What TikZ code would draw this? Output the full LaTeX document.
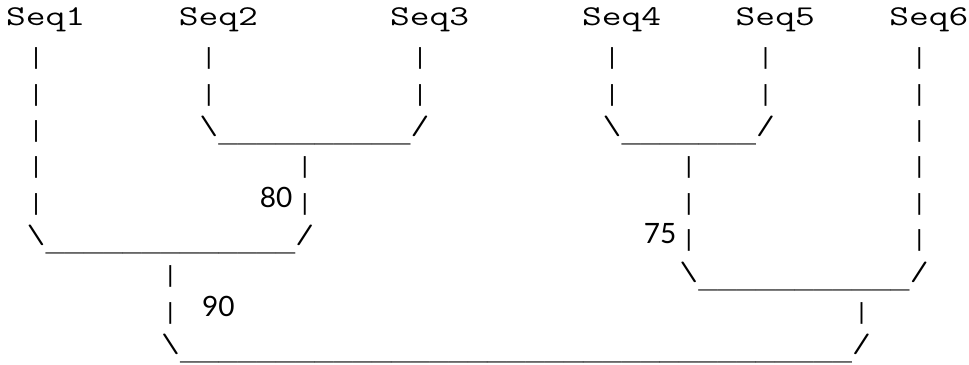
\documentclass[tikz,border=0pt]{standalone}
\usepackage{fontspec}
\newfontfamily\digitfont{Lato}
\newfontfamily\symfont{Liberation Mono}

\newlength\charw
\setlength\charw{10.5pt}
\newcommand\gap[1]{\hspace*{#1\charw}}
\newcommand\seq[1]{\makebox[4\charw]{\scalebox{0.9767}[1]{\fontsize{21.5pt}{24pt}\selectfont #1}}}
\newcommand\bs{\makebox[\charw]{\textbackslash}}
\newcommand\fs{\makebox[\charw]{/}}
\newcommand\vb{\makebox[\charw]{\raisebox{-2pt}{\scalebox{0.7292}[1]{\fontsize{17.5pt}{24pt}\selectfont\symfont|}}}}
\newcommand\unders[1]{\foreach \k in {1,...,#1}{\makebox[\charw]{\raisebox{-6pt}{\fontsize{17.5pt}{24pt}\selectfont\symfont\_}}}}
\newcommand\lbl[1]{\makebox[2\charw]{\scalebox{0.7292}[1]{\fontsize{21pt}{24pt}\selectfont\digitfont #1}}}
\newcommand\asciiline[1]{\scalebox{1.3714}[1]{#1}}

\tikzset{asciirow/.style={anchor=base west, inner sep=0pt, font=\fontsize{20pt}{24pt}\selectfont\ttfamily}}

\begin{document}
\begin{tikzpicture}[x=0.75pt, y=-0.75pt]
        \useasboundingbox (0, 0) rectangle (969, 364);

        % Rows
        \node[asciirow] (r1) at (7, 26.0) {\asciiline{\seq{Seq1}\gap{5}\seq{Seq2}\gap{7}\seq{Seq3}\gap{6}\seq{Seq4}\gap{4}\seq{Seq5}\gap{4}\seq{Seq6}}};
        \node[asciirow] (r2) at (7, 62.3) {\asciiline{\gap{1}\vb\gap{8}\vb\gap{10}\vb\gap{9}\vb\gap{7}\vb\gap{7}\vb}};
        \node[asciirow] (r3) at (7, 98.6) {\asciiline{\gap{1}\vb\gap{8}\vb\gap{10}\vb\gap{9}\vb\gap{7}\vb\gap{7}\vb}};
        \node[asciirow] (r4) at (7, 134.9) {\asciiline{\gap{1}\vb\gap{8}\bs\unders{10}\fs\gap{9}\bs\unders{7}\fs\gap{7}\vb}};
        \node[asciirow] (r5) at (7, 171.2) {\asciiline{\gap{1}\vb\gap{13}\vb\gap{19}\vb\gap{11}\vb}};
        \node[asciirow] (r6) at (7, 207.5) {\asciiline{\gap{1}\vb\gap{11}\lbl{80}\vb\gap{19}\vb\gap{11}\vb}};
        \node[asciirow] (r7) at (7, 243.8) {\asciiline{\gap{1}\bs\unders{13}\fs\gap{17}\lbl{75}\vb\gap{11}\vb}};
        \node[asciirow] (r8) at (7, 280.1) {\asciiline{\gap{8}\vb\gap{26}\bs\unders{11}\fs}};
        \node[asciirow] (r9) at (7, 316.4) {\asciiline{\gap{8}\vb\gap{1}\lbl{90}\gap{32}\vb}};
        \node[asciirow] (r10) at (7, 352.7) {\asciiline{\gap{8}\bs\unders{35}\fs}};
    \end{tikzpicture}
\end{document}
